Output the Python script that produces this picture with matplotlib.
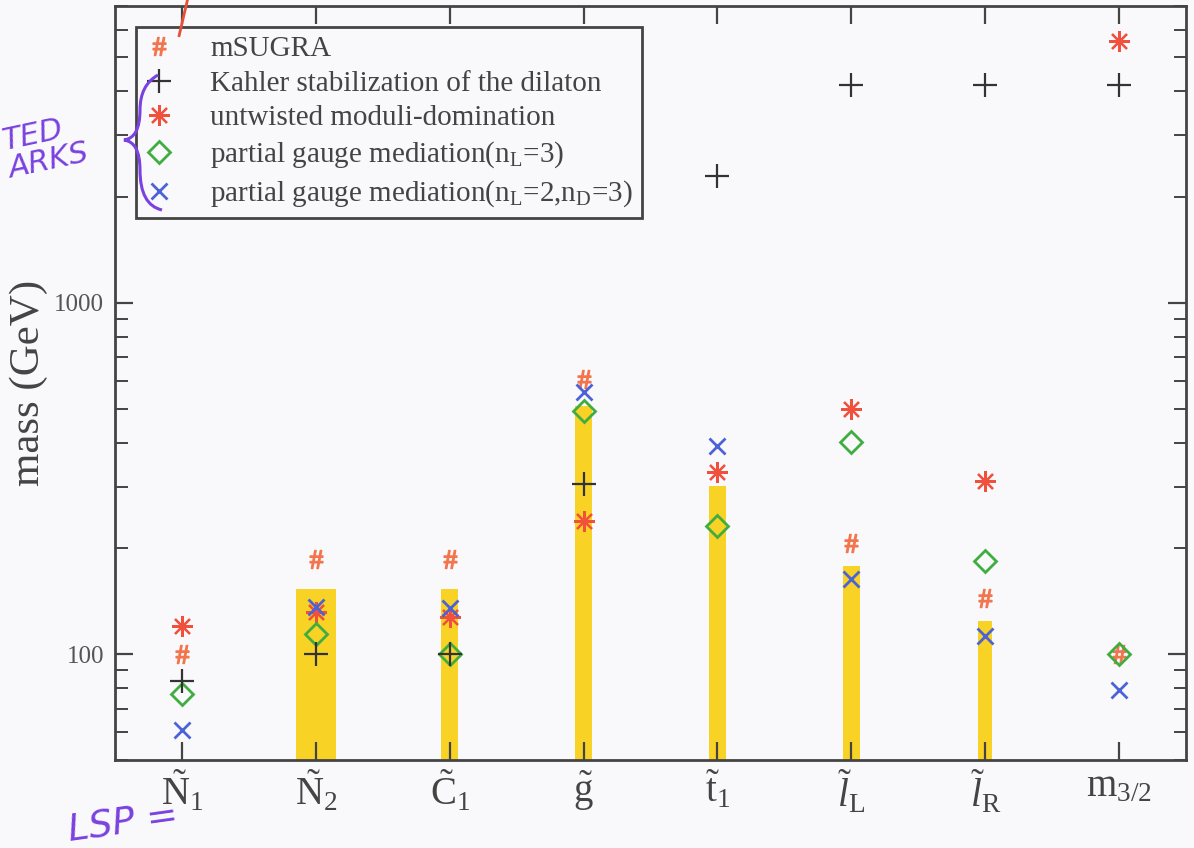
import numpy as np
import matplotlib
matplotlib.use('Agg')
import matplotlib.pyplot as plt
from matplotlib.lines import Line2D
from matplotlib.path import Path
from matplotlib.patches import PathPatch
from matplotlib.ticker import LogLocator, NullFormatter, FixedLocator

plt.rcParams['font.family'] = ['Liberation Serif', 'DejaVu Serif']
plt.rcParams['mathtext.fontset'] = 'custom'
plt.rcParams['mathtext.rm'] = 'Liberation Serif'
plt.rcParams['mathtext.it'] = 'Liberation Serif:italic'

# sparticle labels
categories = [r'$\tilde{\rm N}_1$', r'$\tilde{\rm N}_2$', r'$\tilde{\rm C}_1$', r'$\tilde{\rm g}$',
              r'$\tilde{\rm t}_1$', r'$\tilde{l}_{\rm L}$', r'$\tilde{l}_{\rm R}$', r'${\rm m}_{3/2}$']

# masses in GeV (nan = not shown)
msugra = [100, 187, 187, 607, np.nan, 207, 145, 100]
kahler = [84, 100, 100, 305, 2290, 4180, 4180, 4180]
untwisted = [120, 132, 128, 239, 330, 499, 312, 5550]
pgm_nl3 = [77, 114, 100, 492, 232, 401, 184, 100]
pgm_nl2_nd3 = [61, 136, 135, 558, 392, 164, 113, 79]

# yellow highlighter strokes drawn over the print (top of stroke, GeV)
highlight_top = [np.nan, 153, 153, 509, 301, 178, 124, np.nan]
highlight_w = [0, 0.30, 0.13, 0.13, 0.13, 0.13, 0.10, 0]


def main():
    fig = plt.figure(figsize=(11.94, 8.48), dpi=100, facecolor='#f9f9fb')
    ax = fig.add_axes([0.0963, 0.1038, 0.8970, 0.8891])
    ax.set_facecolor('#f9f9fb')
    x = np.arange(1, len(categories) + 1)

    ax.set_yscale('log')
    ax.set_ylim(50, 7000)
    ax.set_xlim(0.5, 8.5)

    # highlighter
    hb = np.array(highlight_top, dtype=float)
    ok = ~np.isnan(hb)
    ax.bar(x[ok], hb[ok] - 50, bottom=50, width=np.array(highlight_w)[ok],
           color='#f8cf12', alpha=0.92, zorder=1, linewidth=0)

    ax.plot(x, msugra, linestyle='none', marker=r'$\#$', markersize=13,
            color='#f2754e', zorder=3, label='mSUGRA')
    ax.plot(x, kahler, linestyle='none', marker='+', markersize=17, markeredgewidth=1.6,
            color='#333333', zorder=4, label='Kahler stabilization of the dilaton')
    ax.plot(x, untwisted, linestyle='none', marker=(8, 2, 0), markersize=15, markeredgewidth=1.6,
            color='#f0503c', zorder=3, label='untwisted moduli-domination')
    ax.plot(x, pgm_nl3, linestyle='none', marker='D', markersize=11, markeredgewidth=2,
            markerfacecolor='none', markeredgecolor='#3fad3f', zorder=3,
            label=r'partial gauge mediation(n$_{\rm L}$=3)')
    ax.plot(x, pgm_nl2_nd3, linestyle='none', marker='x', markersize=12, markeredgewidth=2,
            color='#4b63d6', zorder=3,
            label=r'partial gauge mediation(n$_{\rm L}$=2,n$_{\rm D}$=3)')

    ax.xaxis.set_major_locator(FixedLocator(x))
    ax.set_xticklabels(categories, fontsize=28)
    ax.yaxis.set_major_locator(LogLocator(base=10, numticks=10))
    ax.yaxis.set_minor_locator(LogLocator(base=10, subs=np.arange(2, 10), numticks=10))
    ax.yaxis.set_minor_formatter(NullFormatter())
    ax.set_yticks([100, 1000])
    ax.set_yticklabels(['100', '1000'], fontsize=18, color='#555555')
    ax.tick_params(axis='both', which='major', direction='in', length=13, width=1.6,
                   top=True, right=True, color='#444444', pad=8)
    ax.tick_params(axis='x', which='major', pad=6)
    ax.tick_params(axis='y', which='minor', direction='in', length=9, width=1.4,
                   right=True, color='#444444')
    ax.tick_params(axis='x', which='both', labelcolor='#444444')
    for s in ax.spines.values():
        s.set_linewidth(2)
        s.set_color('#444444')

    ax.set_ylabel('mass (GeV)', fontsize=31, color='#444444', labelpad=4)

    leg = ax.legend(loc='upper left', bbox_to_anchor=(0.0196, 0.972), borderaxespad=0,
                    fontsize=21, frameon=True, fancybox=False, handlelength=1.0,
                    handletextpad=1.25, labelspacing=0.28, borderpad=0.3)
    leg.get_frame().set_edgecolor('#444444')
    leg.get_frame().set_linewidth(2)
    leg.get_frame().set_facecolor('#f9f9fb')
    leg.get_frame().set_alpha(1)
    for t in leg.get_texts():
        t.set_color('#444444')

    # handwritten notes on the scan
    purple = '#7a42e0'
    fig.text(0.055, 0.008, 'LSP =', fontsize=27, color=purple, family='DejaVu Sans',
             style='italic', rotation=8)
    fig.text(0.0, 0.79, 'TED\nARKS', fontsize=22, color=purple, family='DejaVu Sans',
             style='italic', rotation=12, linespacing=1.0)
    # hand-drawn brace (pixel coords -> figure fraction)
    W, H = 1194.0, 848.0
    pts = [(158, 75), (140, 85), (140, 110), (140, 138), (124, 140),
           (140, 142), (140, 170), (140, 205), (162, 210)]
    codes = [Path.MOVETO, Path.CURVE3, Path.CURVE3, Path.CURVE3, Path.CURVE3,
             Path.CURVE3, Path.CURVE3, Path.CURVE3, Path.CURVE3]
    verts = [(px / W, 1 - py / H) for px, py in pts]
    fig.add_artist(PathPatch(Path(verts, codes), facecolor='none', edgecolor=purple,
                             lw=2.2, transform=fig.transFigure))
    fig.add_artist(Line2D([0.150, 0.157], [0.958, 1.0], color='#e8503a', lw=2,
                          transform=fig.transFigure))

    fig.savefig('out.png', dpi=100, facecolor=fig.get_facecolor())


if __name__ == '__main__':
    main()
